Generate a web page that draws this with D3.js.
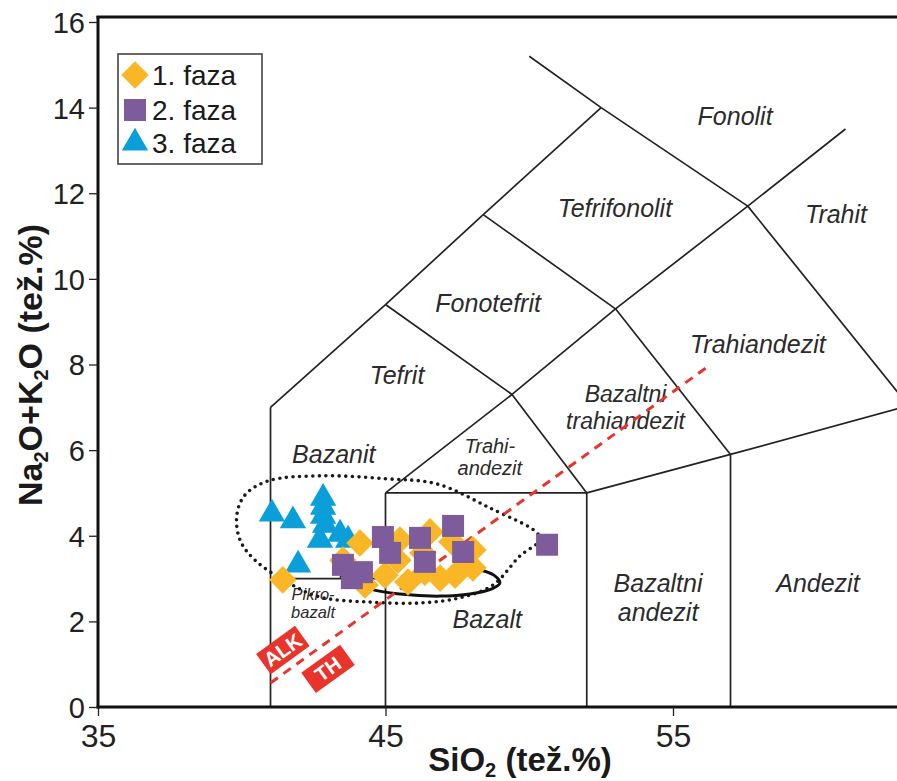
<!DOCTYPE html>
<html><head><meta charset="utf-8">
<script src="https://cdn.jsdelivr.net/npm/d3@7"></script>
<style>body{margin:0;background:#fff}</style>
</head><body>
<svg id="c" width="897" height="781"></svg>
<script>
// ---- data ----
const xTicks = [35, 45, 55];
const yTicks = [0, 2, 4, 6, 8, 10, 12, 14, 16];
const phase1 = [[41.43,2.97],[43.52,3.43],[44.11,3.83],[44.29,2.85],[44.98,3.08],[45.43,3.43],[45.50,3.90],[45.78,2.92],[46.30,3.60],[46.55,4.09],[46.37,3.15],[46.90,3.01],[47.31,3.86],[47.42,3.08],[48.04,3.67],[48.04,3.25],[47.77,3.43]];
const phase2 = [[43.52,3.32],[44.18,3.15],[43.83,3.01],[44.91,3.97],[45.16,3.60],[46.20,3.95],[46.37,3.39],[47.35,4.23],[47.70,3.62],[50.62,3.79]];
const phase3 = [[41.05,4.51],[41.78,4.35],[42.83,4.88],[42.83,4.67],[42.83,4.46],[42.90,4.25],[42.72,3.90],[43.42,4.04],[43.70,3.90],[41.96,3.32]];
const legendLabels = ["1. faza", "2. faza", "3. faza"];
const tasLines = [
 [41,0,41,7],[41,3,45,3],[45,0,45,5],[45,5,52,5],[52,0,52,5],[57,0,57,5.9],
 [52,5,57,5.9],[57,5.9,63,7],[45,5,49.4,7.3],[49.4,7.3,52,5],[49.4,7.3,53,9.3],
 [53,9.3,57,5.9],[53,9.3,57.6,11.7],[57.6,11.7,63,7.2],[41,7,45,9.4],[45,9.4,49.4,7.3],
 [45,9.4,48.4,11.5],[48.4,11.5,53,9.3],[48.4,11.5,52.5,14],[52.5,14,57.6,11.7],
 [52.5,14,50,15.2],[57.6,11.7,61,13.5]
];
const fieldLabels = [
 {t:"Fonolit", x:57.16, y:13.6, s:25},
 {t:"Tefrifonolit", x:52.98, y:11.45, s:25},
 {t:"Trahit", x:60.67, y:11.3, s:25},
 {t:"Trahiandezit", x:57.95, y:8.27, s:25},
 {t:"Fonotefrit", x:48.57, y:9.23, s:25},
 {t:"Tefrit", x:45.4, y:7.55, s:25},
 {t:"Bazaltni", x:53.35, y:7.12, s:23},
 {t:"trahiandezit", x:53.35, y:6.49, s:23},
 {t:"Trahi-", x:48.63, y:5.93, s:20},
 {t:"andezit", x:48.63, y:5.42, s:20},
 {t:"Bazanit", x:43.2, y:5.70, s:25},
 {t:"Bazalt", x:48.54, y:1.85, s:25},
 {t:"Bazaltni", x:54.48, y:2.69, s:25},
 {t:"andezit", x:54.48, y:2.0, s:25},
 {t:"Andezit", x:60.04, y:2.69, s:25},
 {t:"Pikro-", x:42.48, y:2.5, s:16.5},
 {t:"bazalt", x:42.48, y:2.08, s:16.5}
];
const dottedField = [[39.83,4.49],[40.11,4.95],[40.91,5.28],[42.72,5.40],[45.05,5.33],[46.79,5.21],[48.63,4.65],[50.27,4.07],[50.37,3.90],[49.68,3.53],[48.74,2.85],[47.59,2.55],[46.20,2.43],[44.46,2.45],[42.72,2.57],[41.57,2.92],[40.46,3.43],[39.94,3.90]];
const solidField = [[43.42,3.06],[44.46,2.76],[45.50,2.64],[46.90,2.59],[47.94,2.64],[48.70,2.76],[48.98,2.90],[48.77,3.08],[48.29,3.20]];
const alkThLine = [[41.0,0.56],[56.29,7.99]];
const alkThLabels = [{t:"ALK", x:41.43, y:1.33},{t:"TH", x:43.0, y:0.89}];

// ---- scales ----
const svg = d3.select("#c");
const x = d3.scaleLinear().domain([35,55]).range([98,673]);
const y = d3.scaleLinear().domain([0,16]).range([707,22]);
const X0 = 98, X1 = 897, Y0 = 707, Y1 = 17;

svg.append("defs").append("clipPath").attr("id","clip")
  .append("rect").attr("x",X0).attr("y",Y1).attr("width",X1-X0).attr("height",Y0-Y1);

const plot = svg.append("g").attr("clip-path","url(#clip)");

// TAS boundaries
plot.selectAll("line.tas").data(tasLines).join("line")
  .attr("x1",d=>x(d[0])).attr("y1",d=>y(d[1])).attr("x2",d=>x(d[2])).attr("y2",d=>y(d[3]))
  .attr("stroke","#222").attr("stroke-width",1.7);

// field labels
plot.selectAll("text.fl").data(fieldLabels).join("text")
  .attr("x",d=>x(d.x)).attr("y",d=>y(d.y)).attr("text-anchor","middle")
  .attr("font-family","Liberation Sans, Arial, sans-serif").attr("font-style","italic")
  .attr("font-size",d=>d.s).attr("fill","#2b2b2b").text(d=>d.t);

// dotted field
plot.append("path").datum(dottedField)
  .attr("d", d3.line().x(d=>x(d[0])).y(d=>y(d[1])).curve(d3.curveCatmullRomClosed))
  .attr("fill","none").attr("stroke","#1a1a1a").attr("stroke-width",3.6)
  .attr("stroke-linecap","round").attr("stroke-dasharray","0,6.6");

// solid curve
plot.append("path").datum(solidField)
  .attr("d", d3.line().x(d=>x(d[0])).y(d=>y(d[1])).curve(d3.curveCatmullRom))
  .attr("fill","none").attr("stroke","#111").attr("stroke-width",3);

// ALK/TH dashed line
plot.append("line")
  .attr("x1",x(alkThLine[0][0])).attr("y1",y(alkThLine[0][1]))
  .attr("x2",x(alkThLine[1][0])).attr("y2",y(alkThLine[1][1]))
  .attr("stroke","#e8342b").attr("stroke-width",3).attr("stroke-dasharray","9,7");

const ang = Math.atan2(y(alkThLine[1][1])-y(alkThLine[0][1]), x(alkThLine[1][0])-x(alkThLine[0][0]))*180/Math.PI;
const lab = plot.selectAll("g.at").data(alkThLabels).join("g")
  .attr("transform",d=>`translate(${x(d.x)},${y(d.y)}) rotate(${ang})`);
lab.append("rect").attr("x",-24).attr("y",-12.5).attr("width",48).attr("height",25).attr("fill","#e8342b");
lab.append("text").attr("text-anchor","middle").attr("y",7)
  .attr("font-family","Liberation Sans, Arial, sans-serif").attr("font-weight","bold")
  .attr("font-size",20).attr("fill","#fff").text(d=>d.t);

// markers
const cDia = "#f9b626", cSq = "#7e5b9b", cTri = "#0a9fd8";
const triSym = d3.symbol().type(d3.symbolTriangle).size(300);
const sqSym = d3.symbol().type(d3.symbolSquare).size(484);
const diaSym = d3.symbol().type(d3.symbolSquare).size(380);
plot.selectAll("path.p3").data(phase3).join("path")
  .attr("d",triSym).attr("transform",d=>`translate(${x(d[0])},${y(d[1])})`).attr("fill",cTri);
plot.selectAll("path.p1").data(phase1).join("path")
  .attr("d",diaSym).attr("transform",d=>`translate(${x(d[0])},${y(d[1])}) rotate(45)`).attr("fill",cDia);
plot.selectAll("path.p2").data(phase2).join("path")
  .attr("d",sqSym).attr("transform",d=>`translate(${x(d[0])},${y(d[1])})`).attr("fill",cSq);

// axes
const ax = svg.append("g");
ax.append("line").attr("x1",X0).attr("x2",X0).attr("y1",Y1-1).attr("y2",Y0+1.5).attr("stroke","#111").attr("stroke-width",3);
ax.append("line").attr("x1",X0-1.5).attr("x2",X1).attr("y1",Y0).attr("y2",Y0).attr("stroke","#111").attr("stroke-width",3);
ax.append("line").attr("x1",X0-1.5).attr("x2",X1).attr("y1",Y1).attr("y2",Y1).attr("stroke","#111").attr("stroke-width",3);

const yAxis = d3.axisLeft(y).tickValues(yTicks).tickSize(9).tickPadding(4).tickFormat(d3.format("d"));
const gy = svg.append("g").attr("transform",`translate(${X0},0)`).call(yAxis);
gy.select(".domain").remove();
gy.selectAll(".tick line").attr("stroke","#222").attr("stroke-width",1.3);
gy.selectAll(".tick text").attr("font-family","Liberation Sans, Arial, sans-serif").attr("font-size",29).attr("fill","#222").attr("dy","0.36em");

const xAxis = d3.axisBottom(x).tickValues(xTicks).tickSize(9).tickPadding(8).tickFormat(d3.format("d"));
const gx = svg.append("g").attr("transform",`translate(0,${Y0})`).call(xAxis);
gx.select(".domain").remove();
gx.selectAll(".tick line").attr("stroke","#222").attr("stroke-width",1.3);
gx.selectAll(".tick text").attr("font-family","Liberation Sans Narrow, Arial Narrow, Liberation Sans, sans-serif").attr("font-size",32).attr("fill","#222");

// titles
const xt = svg.append("text").attr("x",520).attr("y",771).attr("text-anchor","middle")
  .attr("font-family","Liberation Sans, Arial, sans-serif").attr("font-weight","bold").attr("font-size",33).attr("fill","#1a1a1a");
xt.append("tspan").text("SiO");
xt.append("tspan").attr("font-size",20).attr("dy",6).text("2");
xt.append("tspan").attr("dy",-6).text(" (tež.%)");

const yt = svg.append("text").attr("transform","translate(42,365) rotate(-90)").attr("text-anchor","middle")
  .attr("font-family","Liberation Sans, Arial, sans-serif").attr("font-weight","bold").attr("font-size",34).attr("fill","#1a1a1a");
yt.append("tspan").text("Na");
yt.append("tspan").attr("font-size",20).attr("dy",6).text("2");
yt.append("tspan").attr("dy",-6).text("O+K");
yt.append("tspan").attr("font-size",20).attr("dy",6).text("2");
yt.append("tspan").attr("dy",-6).text("O (tež.%)");

// legend
const lg = svg.append("g");
lg.append("rect").attr("x",118).attr("y",54).attr("width",144).attr("height",110).attr("fill","#fff").attr("stroke","#444").attr("stroke-width",1.6);
const lgY = [75, 110, 143];
lg.append("path").attr("d",diaSym).attr("transform",`translate(135,${lgY[0]}) rotate(45)`).attr("fill",cDia);
lg.append("path").attr("d",sqSym).attr("transform",`translate(135,${lgY[1]})`).attr("fill",cSq);
lg.append("path").attr("d",triSym).attr("transform",`translate(135,${lgY[2]})`).attr("fill",cTri);
lg.selectAll("text").data(legendLabels).join("text")
  .attr("x",152).attr("y",(d,i)=>lgY[i]+10).attr("font-family","Liberation Sans, Arial, sans-serif")
  .attr("font-size",28).attr("fill","#1a1a1a").text(d=>d);
</script>
</body></html>
